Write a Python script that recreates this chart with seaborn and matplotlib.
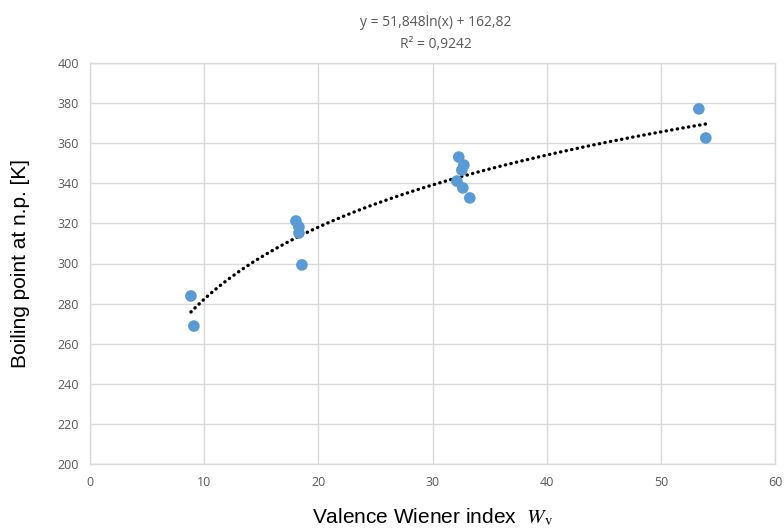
import numpy as np
import pandas as pd
import matplotlib
matplotlib.use("Agg")
import matplotlib.pyplot as plt
import seaborn as sns

# Data
wv = [8.84, 9.10, 18.04, 18.30, 18.30, 18.56, 32.30, 32.75, 32.57, 32.14, 32.66, 33.27, 53.33, 53.94]
bp = [283.8, 268.8, 321.2, 318.2, 315.2, 299.3, 353.1, 349.1, 346.6, 341.1, 337.7, 332.7, 377.1, 362.6]
fit_a = 51.848
fit_b = 162.82
eq_text = "y = 51,848ln(x) + 162,82"
r2_text = "R² = 0,9242"
xticks = [0, 10, 20, 30, 40, 50, 60]
yticks = [200, 220, 240, 260, 280, 300, 320, 340, 360, 380, 400]

df = pd.DataFrame({"Wv": wv, "bp": bp})

sns.set_theme(style="whitegrid")
plt.rcParams["font.family"] = ["Open Sans", "DejaVu Sans"]
plt.rcParams["mathtext.fontset"] = "stix"

fig = plt.figure(figsize=(7.84, 5.28), dpi=100)
ax = fig.add_axes([90/784, 1-464/528, (775-90)/784, (464-63)/528])

xs = np.linspace(min(wv), max(wv), 200)
trend = pd.DataFrame({"x": xs, "y": fit_a*np.log(xs) + fit_b})
sns.lineplot(data=trend, x="x", y="y", ax=ax, color="black", lw=2.4,
             linestyle=(0, (0.1, 1.6)), dash_capstyle="round", zorder=3)
sns.scatterplot(data=df, x="Wv", y="bp", ax=ax, color="#5b9bd5", s=70,
                edgecolor="none", zorder=4)

ax.set_xlim(0, 60)
ax.set_ylim(200, 400)
ax.set_xticks(xticks)
ax.set_yticks(yticks)
ax.tick_params(axis="both", labelsize=9, colors="#595959", length=0)
ax.tick_params(axis="x", pad=9)
ax.tick_params(axis="y", pad=8)
ax.grid(True, color="#d9d9d9", lw=1)
for s in ax.spines.values():
    s.set_color("#d9d9d9")
    s.set_linewidth(1)

ax.set_xlabel(r"Valence Wiener index  $\mathit{W}_{\mathrm{v}}$", family="Liberation Sans",
              fontsize=15, color="black", labelpad=12)
ax.set_ylabel("Boiling point at n.p. [K]", family="Liberation Sans", fontsize=15,
              color="black", labelpad=20)

fig.text(436/784, 1-22/528, eq_text, ha="center", va="center", fontsize=10, color="#595959")
fig.text(436/784, 1-45/528, r2_text, ha="center", va="center", fontsize=10, color="#595959")

fig.savefig("out.png", dpi=100)
